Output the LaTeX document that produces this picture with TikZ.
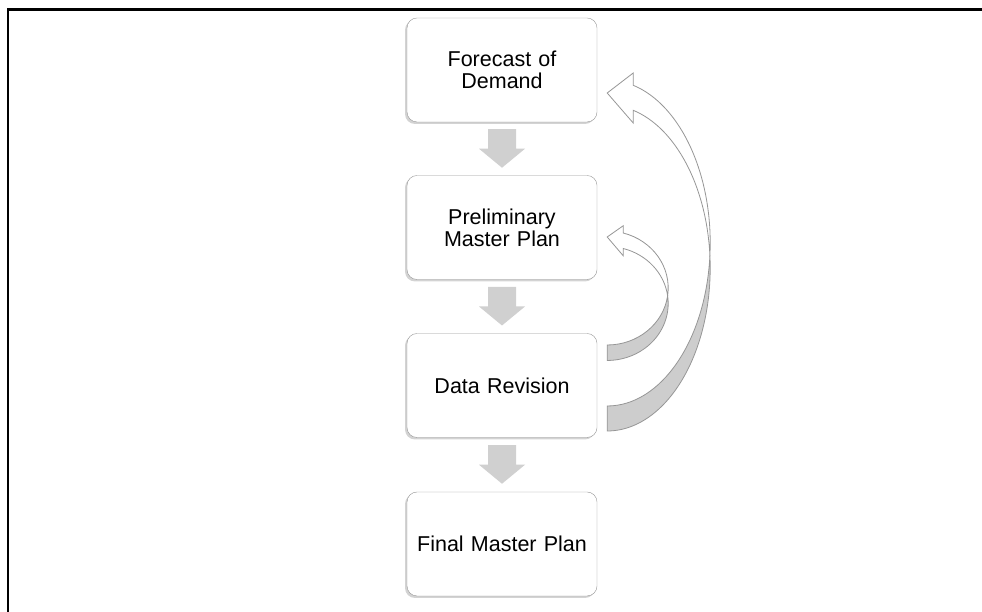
\documentclass[tikz,border=0pt]{standalone}
\usepackage{fontspec}
\setmainfont{Liberation Sans}
\usepackage{xcolor}
\usepackage{tikz}
\usetikzlibrary{calc,shadows}

\definecolor{boxline}{RGB}{150,150,150}
\definecolor{arrowgray}{RGB}{208,208,208}
\definecolor{shadegray}{RGB}{205,205,205}

\tikzset{
  stage/.style={draw=boxline, fill=white, rounded corners=10pt,
    minimum width=190pt, minimum height=104pt, text width=172pt, align=center,
    font=\fontsize{21.5}{22}\selectfont,
    drop shadow={shadow xshift=-2pt, shadow yshift=-2pt, opacity=0.35}},
  downarrow/.style={fill=arrowgray},
  backfront/.style={draw=boxline, fill=white, line width=0.8pt},
  backside/.style={draw=boxline, fill=shadegray, line width=0.8pt}
}

\begin{document}
\begin{tikzpicture}[x=1pt,y=1pt]
  \useasboundingbox (0,0) rectangle (982,612);
  \draw[line width=2.5pt] (8,0) -- (8,602.7) -- (982,602.7);

  \node[stage] (fcst) at (502,542) {Forecast of\\Demand};
  \node[stage] (prelim) at (502,384.5) {Preliminary\\Master Plan};
  \node[stage] (rev) at (502,226.5) {Data Revision};
  \node[stage] (final) at (502,68) {Final Master Plan};

  % block arrows down
  \foreach \a/\b in {fcst/prelim, prelim/rev, rev/final}
    \fill[downarrow] ($(\a.south)!0.5!(\b.north)$) +(-14,19.5) -- +(14,19.5) -- +(14,0)
      -- +(23,0) -- +(0,-19) -- +(-23,0) -- +(-14,0) -- cycle;

  % curved arrows back up
  \begin{scope}[shift={(rev.east)}]
    % to forecast
    \filldraw[backside] (10,-20.5) arc[start angle=-90, end angle=-4.4, x radius=103, y radius=163]
      arc[start angle=4.4, end angle=-90, x radius=103, y radius=163] -- cycle;
    \filldraw[backfront] (112.7,130) arc[start angle=-4.4, end angle=75.38, x radius=103, y radius=163]
      -- (36,312.5) -- (10,292.5) -- (36,262.5) -- (36,275.2)
      arc[start angle=75.38, end angle=4.4, x radius=103, y radius=163] -- cycle;
    % to preliminary plan
    \filldraw[backside] (10,40.5) arc[start angle=-90, end angle=-7.81, x radius=61, y radius=57]
      arc[start angle=7.81, end angle=-90, x radius=61, y radius=57] -- cycle;
    \filldraw[backfront] (70.43,89.75) arc[start angle=-7.81, end angle=74.79, x radius=61, y radius=57]
      -- (26,159.75) -- (10,148.5) -- (26,129.75) -- (26,137)
      arc[start angle=74.79, end angle=7.81, x radius=61, y radius=57] -- cycle;
  \end{scope}
\end{tikzpicture}
\end{document}
